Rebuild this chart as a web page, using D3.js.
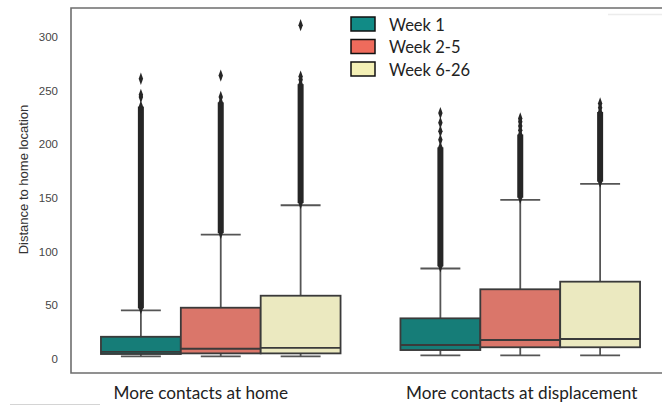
<!DOCTYPE html>
<html>
<head>
<meta charset="utf-8">
<script src="https://cdn.jsdelivr.net/npm/d3@7"></script>
<style>
  html, body { margin: 0; padding: 0; background: #fff; }
  svg { display: block; }
</style>
</head>
<body>
<svg id="chart" width="662" height="407"></svg>
<script>
// Categories and series
const groups = ["More contacts at home", "More contacts at displacement"];
const weeks = ["Week 1", "Week 2-5", "Week 6-26"];

// Box statistics, [group][week]
const q1 = [[4.2, 4.8, 4.8], [7.9, 10.5, 10.5]];
const medians = [[6.3, 9.1, 10.0], [12.6, 17.3, 18.2]];
const q3 = [[20.3, 47.4, 58.6], [37.5, 64.6, 71.7]];
const whiskerLow = [[2, 2, 2], [3, 3, 3]];
const whiskerHigh = [[45, 115.5, 143], [84, 148, 163]];

// Outliers: contiguous runs of fliers [from, to] and isolated fliers
const denseOutliers = [
  [[47, 235], [117, 239], [145, 256]],
  [[86, 197], [150, 209], [165, 230]]
];
const sparseOutliers = [
  [[244, 246, 261], [244, 264], [260, 263, 311]],
  [[204, 212, 220, 229], [213, 217, 221, 224], [234, 238]]
];

const yTicks = [0, 50, 100, 150, 200, 250, 300];

const boxColors = ["#167d78", "#da766a", "#ebe9c0"];
const legendColors = ["#118b86", "#ef6b5c", "#f4f0b6"];

const svg = d3.select("#chart");

const plot = { left: 71, top: 8, bottom: 373, right: 670 };

const x = d3.scaleBand().domain(groups).range([plot.left, plot.right]);
const boxWidthFrac = 0.8;
const xSub = d3.scaleBand().domain(weeks)
  .range([0, x.bandwidth() * boxWidthFrac]);

const y = d3.scaleLinear().domain([-13.5, 327]).range([plot.bottom, plot.top]);

// Faint stray rules along the edges
svg.append("line").attr("x1", 608).attr("x2", 662).attr("y1", 14.5).attr("y2", 14.5)
  .attr("stroke", "#ececec").attr("stroke-width", 1.5);
svg.append("line").attr("x1", 10).attr("x2", 100).attr("y1", 404.5).attr("y2", 404.5)
  .attr("stroke", "#d4d4d4").attr("stroke-width", 1);

// Spines
svg.append("path")
  .attr("d", `M${plot.right},${plot.top}H${plot.left}V${plot.bottom}H${plot.right}`)
  .attr("fill", "none").attr("stroke", "#6e6e6e").attr("stroke-width", 1.6);

// Y axis (labels only)
const yAxis = d3.axisLeft(y).tickValues(yTicks).tickSize(0).tickPadding(13);
const gy = svg.append("g").attr("transform", `translate(${plot.left},0)`).call(yAxis);
gy.select(".domain").remove();
gy.selectAll("text")
  .attr("font-family", "'Liberation Sans', Arial, sans-serif")
  .attr("font-size", "11.5px")
  .attr("fill", "#454545");

svg.append("text")
  .attr("transform", `translate(27.5,${(plot.top + plot.bottom) / 2 - 11}) rotate(-90)`)
  .attr("text-anchor", "middle")
  .attr("font-family", "'Liberation Sans', Arial, sans-serif")
  .attr("font-size", "13px")
  .attr("fill", "#333")
  .text("Distance to home location");

// Boxes
const edge = "#3a3a3a";
const whisk = "#555";
const diamond = d3.symbol().type(d3.symbolDiamond).size(28);

groups.forEach((g, gi) => {
  const gx0 = x(g) + x.bandwidth() * (1 - boxWidthFrac) / 2;
  weeks.forEach((w, wi) => {
    const bx = gx0 + xSub(w);
    const bw = xSub.bandwidth();
    const cx = bx + bw / 2;
    const grp = svg.append("g");

    // whiskers
    grp.append("line").attr("x1", cx).attr("x2", cx)
      .attr("y1", y(q3[gi][wi])).attr("y2", y(whiskerHigh[gi][wi]))
      .attr("stroke", whisk).attr("stroke-width", 1.8);
    grp.append("line").attr("x1", cx).attr("x2", cx)
      .attr("y1", y(q1[gi][wi])).attr("y2", y(whiskerLow[gi][wi]))
      .attr("stroke", whisk).attr("stroke-width", 1.8);
    [whiskerHigh[gi][wi], whiskerLow[gi][wi]].forEach(v => {
      grp.append("line").attr("x1", cx - bw / 4).attr("x2", cx + bw / 4)
        .attr("y1", y(v)).attr("y2", y(v))
        .attr("stroke", whisk).attr("stroke-width", 1.8);
    });

    // fliers
    const [d0, d1] = denseOutliers[gi][wi];
    grp.append("rect").attr("x", cx - 3).attr("width", 6)
      .attr("y", y(d1)).attr("height", y(d0) - y(d1))
      .attr("fill", "#262626");
    [d0, d1].concat(sparseOutliers[gi][wi]).forEach(v => {
      grp.append("path").attr("d", diamond)
        .attr("transform", `translate(${cx},${y(v)}) scale(0.78,1.25)`)
        .attr("fill", "#262626");
    });

    // box
    grp.append("rect").attr("x", bx).attr("width", bw)
      .attr("y", y(q3[gi][wi])).attr("height", y(q1[gi][wi]) - y(q3[gi][wi]))
      .attr("fill", boxColors[wi]).attr("stroke", edge).attr("stroke-width", 1.8);
    grp.append("line").attr("x1", bx).attr("x2", bx + bw)
      .attr("y1", y(medians[gi][wi])).attr("y2", y(medians[gi][wi]))
      .attr("stroke", edge).attr("stroke-width", 1.8);
  });
});

// Category labels
const labelShift = [-20, 1.5];
svg.selectAll(".xlab").data(groups).join("text")
  .attr("class", "xlab")
  .attr("x", (d, i) => x(d) + x.bandwidth() / 2 + labelShift[i])
  .attr("y", 399)
  .attr("text-anchor", "middle")
  .attr("font-family", "Lato, 'Open Sans', sans-serif")
  .attr("font-size", "17.2px")
  .attr("fill", "#222")
  .text(d => d);

// Legend
const legend = svg.append("g").attr("transform", "translate(351,17)");
weeks.forEach((w, i) => {
  const row = legend.append("g").attr("transform", `translate(0,${i * 22.5})`);
  row.append("rect").attr("width", 24).attr("height", 14)
    .attr("fill", legendColors[i]).attr("stroke", "#111").attr("stroke-width", 1.5);
  row.append("text").attr("x", 38).attr("y", 13.5)
    .attr("font-family", "Lato, 'Open Sans', sans-serif")
    .attr("font-size", "16.5px")
    .attr("fill", "#222")
    .text(w);
});
</script>
</body>
</html>
